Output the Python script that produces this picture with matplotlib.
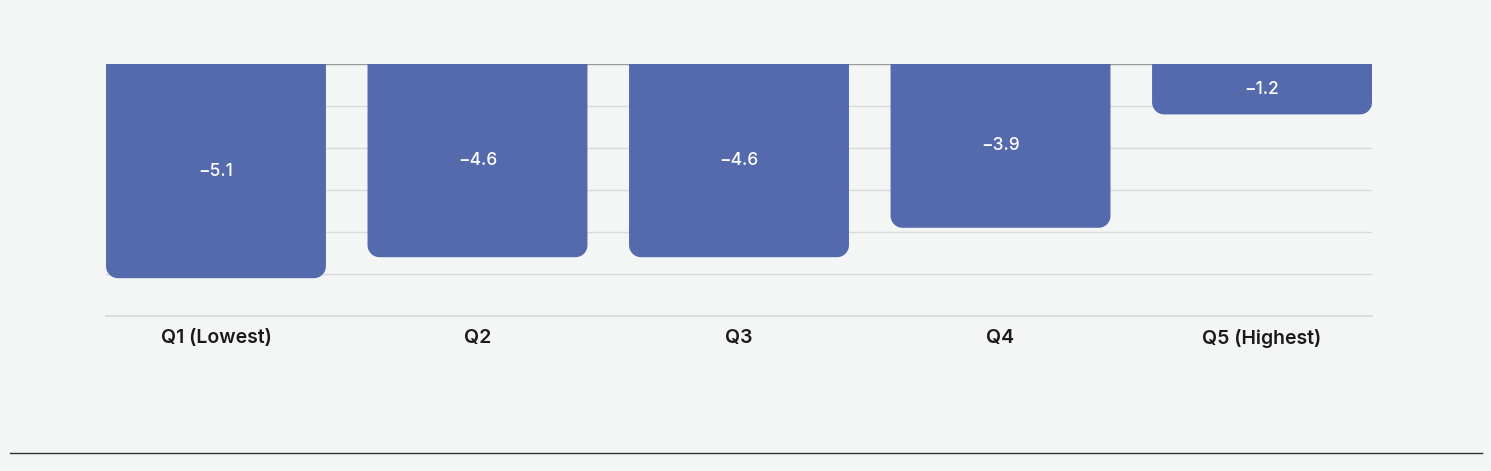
import matplotlib.pyplot as plt
from matplotlib.path import Path
from matplotlib.patches import PathPatch
from matplotlib.lines import Line2D

categories = ['Q1 (Lowest)', 'Q2', 'Q3', 'Q4', 'Q5 (Highest)']
values = [-5.1, -4.6, -4.6, -3.9, -1.2]
labels = ['−5.1', '−4.6', '−4.6', '−3.9', '−1.2']

BG = '#f3f6f5'
BAR = '#546aad'

plt.rcParams['font.family'] = ['Inter', 'DejaVu Sans']

fig = plt.figure(figsize=(14.91, 4.71), dpi=100, facecolor=BG)
ax = fig.add_axes([106 / 1491, 1 - 316 / 471, 1266 / 1491, 252 / 471])
ax.set_facecolor(BG)

width = 0.841
x = list(range(len(categories)))
ax.set_xlim(-width / 2, len(categories) - 1 + width / 2)
ax.set_ylim(-6, 0)

bars = ax.bar(x, values, width=width, color=BAR, zorder=3)

# rounded bottom corners, ~12 px radius
fig.canvas.draw()
inv = ax.transData.inverted()
p0 = inv.transform((0, 0))
p1 = inv.transform((12, 12))
rx, ry = abs(p1[0] - p0[0]), abs(p1[1] - p0[1])
k = 0.5523
for b in bars:
    x0 = b.get_x()
    w = b.get_width()
    top = 0
    bot = b.get_y() + b.get_height()
    x1 = x0 + w
    verts = [
        (x0, top), (x0, bot + ry),
        (x0, bot + ry * (1 - k)), (x0 + rx * (1 - k), bot), (x0 + rx, bot),
        (x1 - rx, bot),
        (x1 - rx * (1 - k), bot), (x1, bot + ry * (1 - k)), (x1, bot + ry),
        (x1, top), (x0, top),
    ]
    codes = [Path.MOVETO, Path.LINETO,
             Path.CURVE4, Path.CURVE4, Path.CURVE4,
             Path.LINETO,
             Path.CURVE4, Path.CURVE4, Path.CURVE4,
             Path.LINETO, Path.CLOSEPOLY]
    ax.add_patch(PathPatch(Path(verts, codes), facecolor=BAR, edgecolor='none', zorder=3))
    b.set_visible(False)

for xi, v, lab in zip(x, values, labels):
    ax.text(xi, v / 2, lab, ha='center', va='center', color='white',
            fontsize=12.5, fontweight='medium', zorder=4)

ax.set_yticks(range(-5, 0))
ax.yaxis.grid(True, color='#d7dbda', linewidth=1, zorder=0)
ax.axhline(0, color='#9a9c9c', linewidth=1, zorder=2)
ax.axhline(-6, color='#d7dbda', linewidth=1.3, zorder=2, clip_on=False)
ax.tick_params(axis='y', left=False, labelleft=False)
ax.set_xticks(x)
ax.set_xticklabels(categories, fontsize=14, fontweight='semibold', color='#1a1a1a')
ax.tick_params(axis='x', length=0, pad=9)
for s in ax.spines.values():
    s.set_visible(False)

fig.add_artist(Line2D([10 / 1491, 1482 / 1491], [1 - 453 / 471] * 2,
                      transform=fig.transFigure, color='#2b2f2f', linewidth=1))

fig.savefig('out.png', dpi=100, facecolor=BG)
